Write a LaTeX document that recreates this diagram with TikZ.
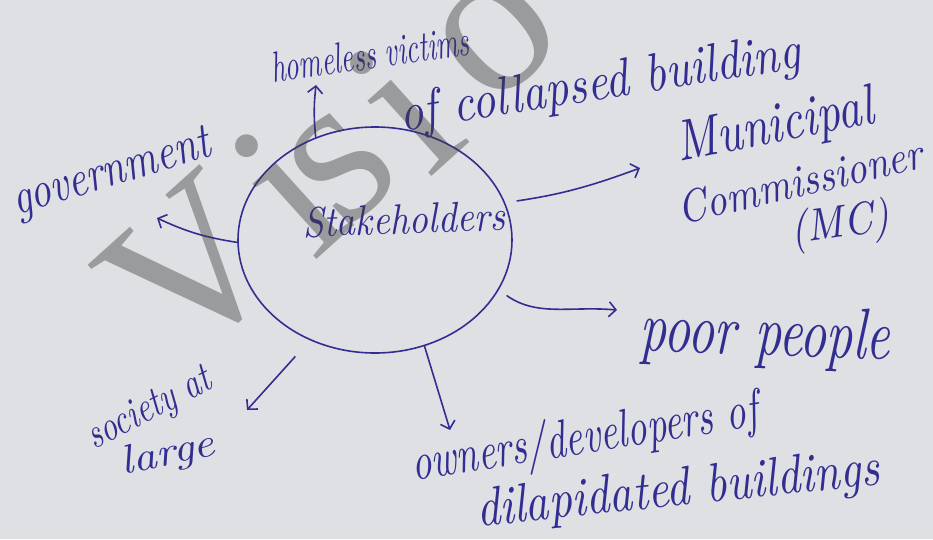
\documentclass[tikz,border=0pt]{standalone}
\usepackage{fontspec}
\usetikzlibrary{shapes.geometric,arrows.meta}
\newfontfamily\wmfont{Liberation Serif}
\definecolor{paper}{RGB}{223,224,228}
\definecolor{ink}{RGB}{50,46,145}
\definecolor{markgray}{RGB}{60,60,60}
% handwritten-style label stretched to a given width and height
\newcommand{\hand}[3]{\resizebox{#1}{#2}{\itshape #3}}

\begin{document}
\begin{tikzpicture}[x=1pt,y=-1pt,
  inkline/.style={draw=ink,line width=1.6pt,line cap=round,line join=round},
  arr/.style={inkline,-{Straight Barb[length=7pt,width=15pt]}},
  lbl/.style={text=ink,inner sep=0pt},
  wm/.style={rotate=42,text=markgray,opacity=0.42,inner sep=0pt,
             font=\wmfont\fontsize{215}{215}\selectfont}]
\clip (0,0) rectangle (933,539);
\fill[paper] (0,0) rectangle (933,539);

% central circle
\node[ellipse,inkline,minimum width=274pt,minimum height=226pt,inner sep=0pt] (hub) at (375,240) {};
\node[lbl,rotate=2] (hubtext) at (404,219) {\hand{203pt}{30pt}{Stakeholders}};

% stakeholder labels
\node[lbl,rotate=8]  (homeless) at (370,54)  {\hand{200pt}{30pt}{homeless victims}};
\node[lbl,rotate=9]  (collapsed) at (600,86) {\hand{405pt}{38pt}{of collapsed building}};
\node[lbl,rotate=17] (gov) at (112,175) {\hand{205pt}{32pt}{government}};
\node[lbl,rotate=11] (muni) at (775,128) {\hand{200pt}{40pt}{Municipal}};
\node[lbl,rotate=13] (comm) at (800,181) {\hand{250pt}{32pt}{Commissioner}};
\node[lbl,rotate=8]  (mc) at (840,226) {\hand{100pt}{34pt}{(MC)}};
\node[lbl,rotate=-2] (poor) at (765,337) {\hand{250pt}{50pt}{poor people}};
\node[lbl,rotate=27] (society) at (150,410) {\hand{135pt}{28pt}{society at}};
\node[lbl,rotate=12] (large) at (168,455) {\hand{95pt}{28pt}{large}};
\node[lbl,rotate=9]  (owners) at (585,440) {\hand{350pt}{40pt}{owners/developers of}};
\node[lbl,rotate=6]  (dilap) at (678,492) {\hand{405pt}{38pt}{dilapidated buildings}};

% free arrow ends
\coordinate (eUp) at (316,85);
\coordinate (eGov) at (157,218);
\coordinate (eMuni) at (640,168);
\coordinate (ePoor) at (617,310);
\coordinate (eSoc) at (247,410);
\coordinate (eOwn) at (450,430);

% connectors
\draw[arr] (hub.120) to[bend left=6] (eUp);
\draw[arr] (hub.181) to[bend left=8] (eGov);
\draw[arr,shorten <=12pt] (hub.16) to[bend right=6] (eMuni);
\draw[arr,shorten <=10pt] (hub.-22) to[out=-35,in=175] (ePoor);
\draw[arr,shorten <=22pt] (hub.237) -- (eSoc);
\draw[arr] (hub.-65) -- (eOwn);

% watermark letters
\node[wm] (wmV) at (192,268) {V};
\node[wm] (wmI) at (288,190) {i};
\node[wm] (wmS) at (342,168) {s};
\node[wm] (wmJ) at (403,107) {i};
\node[wm] (wmO) at (497,38) {o};
\end{tikzpicture}
\end{document}
